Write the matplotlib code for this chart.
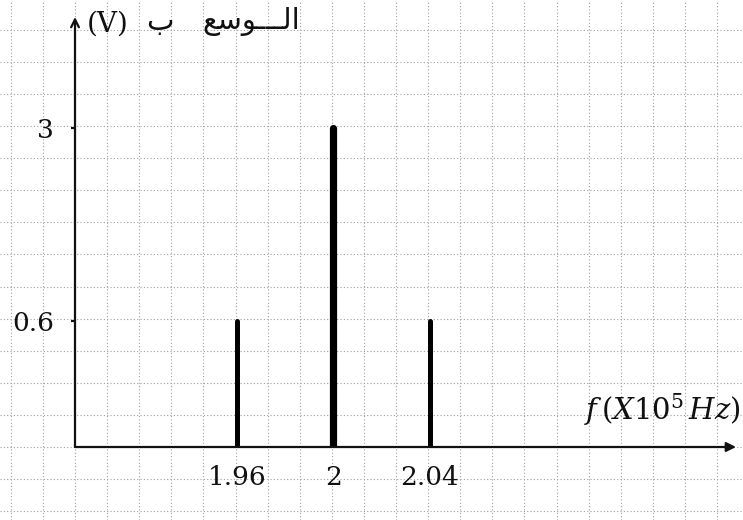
import numpy as np
import matplotlib
matplotlib.use("Agg")
import matplotlib.pyplot as plt

# Spectrum of an amplitude-modulated signal
freqs = [1.96, 2.00, 2.04]          # x10^5 Hz
amps = [0.6, 3.0, 0.6]              # V
stem_widths = [3.6, 5.2, 3.6]
ytick_vals = [0.6, 3]
ytick_labels = ["0.6", "3"]
xtick_vals = [1.96, 2.00, 2.04]
xtick_labels = ["1.96", "2", "2.04"]

# Arabic axis title in visual (left-to-right) order using presentation forms
ylabel_ar_word = "\uFECA\uFEB3\uFEEE\u0640\u0640\u0640\uFEDF\uFE8D"
ylabel_ar_prep = "\uFE8F"
ylabel_unit = "(V)"
xlabel = r"$f\,(X10^{5}\,Hz)$"

plt.rcParams["mathtext.fontset"] = "custom"
plt.rcParams["mathtext.rm"] = "DejaVu Serif"
plt.rcParams["mathtext.it"] = "DejaVu Serif:italic"

W, H = 743, 520
fig = plt.figure(figsize=(W / 100, H / 100), dpi=100)

# Graph-paper background
bg = fig.add_axes([0, 0, 1, 1])
bg.set_xlim(0, W)
bg.set_ylim(H, 0)
bg.axis("off")
cell = 32.1
ox, oy = 75, 447
grid_kw = dict(color="#a0a0a0", lw=0.8, linestyle=(0, (1, 2)), zorder=0)
for k in range(-3, 22):
    x = ox + k * cell
    if 0 <= x <= W:
        bg.axvline(x, **grid_kw)
for k in range(-3, 16):
    y = oy - k * cell
    if 0 <= y <= H:
        bg.axhline(y, **grid_kw)

# Main axes
top_px, right_px = 17, 736
ax = fig.add_axes([ox / W, (H - oy) / H, (right_px - ox) / W, (oy - top_px) / H])
ax.patch.set_alpha(0)

p = 0.578
ax.set_yscale("function", functions=(lambda v: np.abs(v) ** p,
                                     lambda t: np.abs(t) ** (1 / p)))
scale_px = 319.5 / 3 ** p
ymax = ((oy - top_px) / scale_px) ** (1 / p)
px_per_x = (430 - 237) / 0.08
ax.set_xlim(1.96 - (237 - ox) / px_per_x, 2.0 + (right_px - 333) / px_per_x)
ax.set_ylim(0, ymax)

for s in ax.spines.values():
    s.set_visible(False)

for f, a, w in zip(freqs, amps, stem_widths):
    ax.plot([f, f], [0, a], color="black", lw=w, solid_capstyle="round", zorder=3)

# Axes with arrows
ax.annotate("", xy=(1, 0), xytext=(0, 0), xycoords="axes fraction",
            arrowprops=dict(arrowstyle="-|>", lw=1.6, color="#111",
                            mutation_scale=14, shrinkA=0, shrinkB=0))
ax.annotate("", xy=(0, 1), xytext=(0, 0), xycoords="axes fraction",
            arrowprops=dict(arrowstyle="->", lw=1.6, color="#111",
                            mutation_scale=14, shrinkA=0, shrinkB=0))

ax.set_yticks(ytick_vals)
ax.set_yticklabels(ytick_labels)
ax.set_xticks(xtick_vals)
ax.set_xticklabels(xtick_labels)
ax.minorticks_off()
ax.tick_params(axis="y", length=3, width=1.6, pad=12, color="#111",
               labelsize=19, labelcolor="#111")
ax.tick_params(axis="x", length=0, pad=13, labelsize=19, labelcolor="#111")
for lab in ax.get_xticklabels() + ax.get_yticklabels():
    lab.set_fontfamily("DejaVu Serif")

fig.text(87 / W, 1 - 24 / H, ylabel_unit, fontsize=20, family="DejaVu Serif",
         color="#111", ha="left", va="center")
fig.text(146 / W, 1 - 22 / H, ylabel_ar_prep, fontsize=21, family="DejaVu Sans",
         color="#111", ha="left", va="center")
fig.text(300 / W, 1 - 22 / H, ylabel_ar_word, fontsize=21, family="DejaVu Sans",
         color="#111", ha="right", va="center")
fig.text(741 / W, 1 - 410 / H, xlabel, fontsize=21, color="#111",
         ha="right", va="center")

fig.savefig("out.png", dpi=100, facecolor="white")
